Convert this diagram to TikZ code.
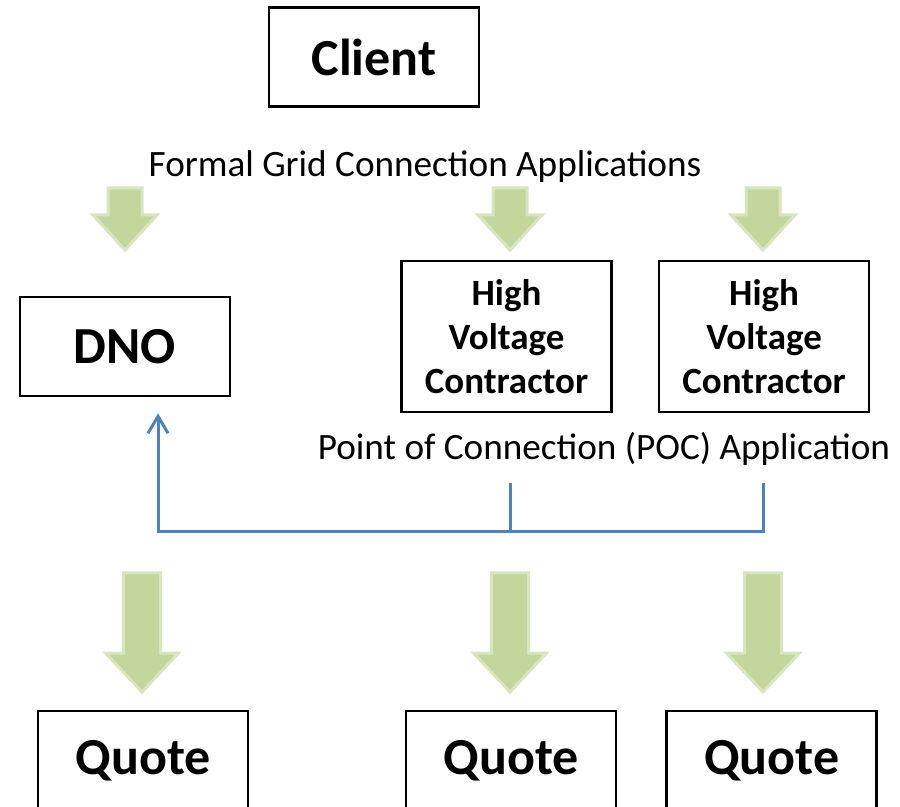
\documentclass[tikz,border=0pt]{standalone}
\usepackage{fontspec}
\setmainfont{Carlito}
\usepackage{tikz}
\usetikzlibrary{arrows.meta, positioning}
\definecolor{linkblue}{HTML}{4F81BD}
\definecolor{arrowgreen}{HTML}{C3D69B}
\definecolor{arrowrim}{HTML}{D9E5C1}
\tikzset{
  >={Straight Barb[length=8.5pt,width=10pt]},
  box/.style={draw, line width=1.3pt, minimum width=105pt, minimum height=49.5pt,
    font=\fontsize{26}{30}\selectfont\bfseries},
  tallbox/.style={box, minimum height=75.5pt, align=center,
    font=\fontsize{18.5}{22}\selectfont\bfseries},
  caption/.style={font=\fontsize{18.6}{22}\selectfont},
  bluelink/.style={draw=linkblue, line width=1.5pt},
  pics/downarrow/.style args={#1/#2/#3/#4}{code={
    \filldraw[fill=arrowgreen, draw=arrowrim, line width=1.5pt]
      (-#1,0) -- (-#1,#3) -- (-#2,#3) -- (0,#4) -- (#2,#3) -- (#1,#3) -- (#1,0) -- cycle;
  }}
}

\begin{document}
\begin{tikzpicture}[x=0.5pt, y=-0.5pt]
    \useasboundingbox (0,0) rectangle (900,807);
    \clip (0,0) rectangle (900,807);

    \node[box] (client) at (374,57) {Client};
    \node[caption] (formal) at (425,167) {Formal Grid Connection Applications};

    \node[box] (dno) at (125,346.5) {DNO};
    \node[tallbox] (hv1) at (506.5,336.5) {High\\Voltage\\Contractor};
    \node[tallbox] (hv2) [right=22.5pt of hv1] {High\\Voltage\\Contractor};
    \node[caption] (poc) at (604,449) {Point of Connection (POC) Application};

    \node[box] (quote1) at (143,760.5) {Quote};
    \node[box] (quote2) at (511,760.5) {Quote};
    \node[box] (quote3) [right=24pt of quote2] {Quote};

    % application arrows
    \pic at (125,188) {downarrow=17/32/27/62};
    \pic at (510,188) {downarrow=17/32/27/62};
    \pic at (763,188) {downarrow=17/32/27/62};

    % quote arrows
    \pic at (142,573) {downarrow=18.5/36.5/80/119};
    \pic at (510,573) {downarrow=18.5/36.5/80/119};
    \pic at (763,573) {downarrow=18.5/36.5/80/119};

    % POC applications back to the DNO
    \coordinate (poc1) at (510,483);
    \coordinate (poc2) at (763,483);
    \coordinate (join) at (158,532);
    \draw[bluelink] (poc1) -- (poc1 |- join);
    \draw[bluelink, ->, shorten >=8pt] (poc2) |- (join) -- (join |- dno.south);
\end{tikzpicture}
\end{document}
